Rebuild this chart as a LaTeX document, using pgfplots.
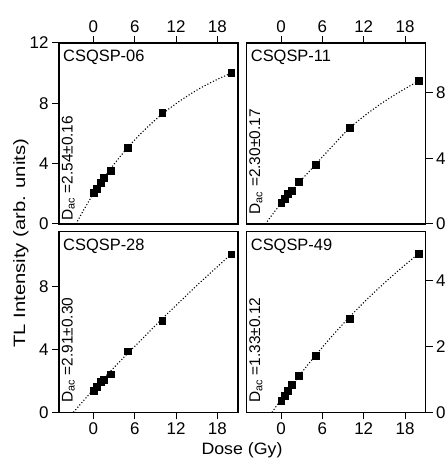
\documentclass[border=0pt]{standalone}
\usepackage{fontspec}
\setmainfont{Liberation Sans}
\usepackage{graphicx}
\usepackage{pgfplots}
\pgfplotsset{compat=1.18}

\pgfplotsset{
  panel/.style={
    scale only axis, width=179bp, height=181bp, anchor=south west,
    xmin=-5, xmax=21, ymin=0, xtick={0,6,12,18},
    tick align=outside, major tick length=7bp,
    axis line style={line width=1.2bp},
    tick style={line width=1bp, black},
    every tick label/.append style={font=\fontsize{17}{18}\selectfont},
    /pgf/number format/assume math mode=true},
  pts/.style={only marks, mark=square*, mark size=3.4bp, black, mark options={fill=black}},
  fitline/.style={dotted, line width=1.1bp, black, smooth, no marks},
}
\tikzset{
  tag/.style={anchor=base west, inner sep=0pt, font=\fontsize{16.5}{18}\selectfont},
  dac/.style={rotate=90, anchor=base west, inner sep=0pt, font=\fontsize{15.5}{17}\selectfont},
}

\begin{document}
\begin{tikzpicture}
\useasboundingbox (0,0) rectangle (448bp,459bp);

% top left
\begin{axis}[panel, at={(59bp,235bp)}, ymax=12, ytick={0,4,8,12},
  xtick pos=right, xticklabel pos=right, ytick pos=left]
\addplot[fitline] coordinates {(-2.54,0) (-1.5,0.86) (0,2.0) (2.5,3.67) (5,5.08)
  (7.5,6.27) (10,7.29) (12.5,8.14) (15,8.87) (17.5,9.48) (20,10.0)};
\addplot[pts] coordinates {(0,2.10) (0.5,2.36) (1,2.74) (1.5,3.09) (2.5,3.51)
  (5,5.08) (10,7.38) (20,10.03)};
\node[tag] at ([xshift=4bp,yshift=-19bp]rel axis cs:0,1) {CSQSP-06};
\node[dac] at ([xshift=13.5bp,yshift=3bp]rel axis cs:0,0) {D\textsubscript{ac} =2.54±0.16};
\end{axis}

% top right
\begin{axis}[panel, at={(246.7bp,235bp)}, ymax=11, ytick={0,4,8},
  xtick pos=right, xticklabel pos=right, ytick pos=right, yticklabel pos=right]
\addplot[fitline] coordinates {(-2.3,0) (0,1.26) (2.5,2.47) (5,3.62) (7.5,4.76)
  (10,5.85) (12.5,6.7) (15,7.45) (17.5,8.1) (20,8.7)};
\addplot[pts] coordinates {(0,1.30) (0.5,1.52) (1,1.83) (1.5,2.03) (2.5,2.55)
  (5,3.60) (10,5.87) (20,8.70)};
\node[tag] at ([xshift=4bp,yshift=-19bp]rel axis cs:0,1) {CSQSP-11};
\node[dac] at ([xshift=13.5bp,yshift=9.5bp]rel axis cs:0,0) {D\textsubscript{ac} =2.30±0.17};
\end{axis}

% bottom left
\begin{axis}[panel, at={(59bp,46.7bp)}, ymax=11.5, ytick={0,4,8},
  xtick pos=left, xticklabel pos=left, ytick pos=left]
\addplot[fitline] coordinates {(-2.91,0) (0,1.45) (2.5,2.62) (5,3.75) (7.5,4.85)
  (10,5.95) (12.5,7.0) (15,8.05) (17.5,9.05) (20,10.04)};
\addplot[pts] coordinates {(0,1.35) (0.5,1.62) (1,1.94) (1.5,2.09) (2.5,2.42)
  (5,3.88) (10,5.84) (20,10.04)};
\node[tag] at ([xshift=4bp,yshift=-19bp]rel axis cs:0,1) {CSQSP-28};
\node[dac] at ([xshift=13.5bp,yshift=9.5bp]rel axis cs:0,0) {D\textsubscript{ac} =2.91±0.30};
\end{axis}

% bottom right
\begin{axis}[panel, at={(246.7bp,46.7bp)}, ymax=5.5, ytick={0,2,4},
  xtick pos=left, xticklabel pos=left, ytick pos=right, yticklabel pos=right]
\addplot[fitline] coordinates {(-1.33,0) (0,0.39) (2.5,1.08) (5,1.73) (7.5,2.34)
  (10,2.91) (12.5,3.44) (15,3.93) (17.5,4.39) (20,4.83)};
\addplot[pts] coordinates {(0,0.35) (0.5,0.50) (1,0.65) (1.5,0.83) (2.5,1.12)
  (5,1.73) (10,2.85) (20,4.83)};
\node[tag] at ([xshift=4bp,yshift=-19bp]rel axis cs:0,1) {CSQSP-49};
\node[dac] at ([xshift=13.5bp,yshift=9.5bp]rel axis cs:0,0) {D\textsubscript{ac} =1.33±0.12};
\end{axis}

\node[rotate=90, anchor=base, font=\fontsize{16.5}{18}\selectfont]
  at (25bp,215.7bp) {\scalebox{1.23}[1]{TL Intensity (arb. units)}};
\node[anchor=base, font=\fontsize{16.5}{18}\selectfont]
  at (242bp,4.5bp) {\scalebox{1.08}[1]{Dose (Gy)}};
\end{tikzpicture}
\end{document}
